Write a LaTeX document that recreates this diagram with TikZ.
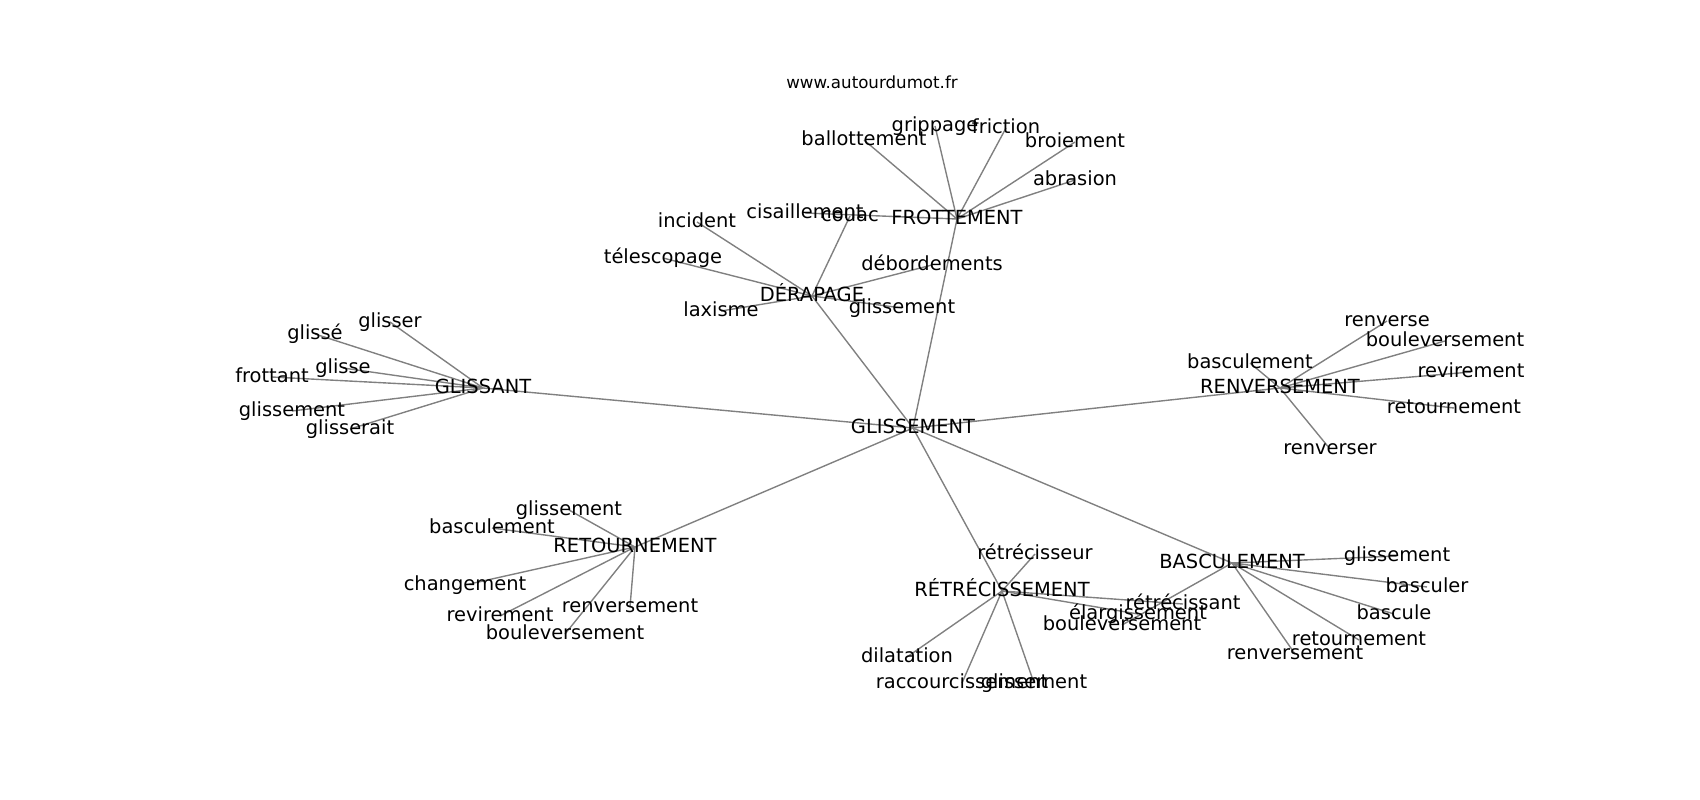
\documentclass[tikz,border=0pt]{standalone}
\usepackage{fontspec}
\setmainfont{DejaVu Sans}
\usetikzlibrary{backgrounds}

\begin{document}
\begin{tikzpicture}[x=0.72bp,y=-0.72bp]
\tikzset{
	word/.style={inner sep=0pt,
		outer sep=0pt,
		font=\fontsize{14bp}{16bp}\selectfont,
		text height=10.6bp, % same box for every label
		text depth=2.9bp
	},
	link/.style={draw=gray, line width=1bp}
}
\useasboundingbox (0,0) rectangle (1700,800);
\node[font=\fontsize{12bp}{14bp}\selectfont] (SITELBL) at (872,82) {www.autourdumot.fr};

% hubs
\node[word] (GLS) at (913,428) {GLISSEMENT};
\node[word] (GLSANT) at (483,388) {GLISSANT};
\node[word] (FROT) at (957,219) {FROTTEMENT};
\node[word] (DERA) at (812,296) {DÉRAPAGE};
\node[word] (RENV) at (1280,388) {RENVERSEMENT};
\node[word] (RETO) at (635,547) {RETOURNEMENT};
\node[word] (RETR) at (1002,591) {RÉTRÉCISSEMENT};
\node[word] (BASC) at (1232,563) {BASCULEMENT};

% FROTTEMENT
\node[word] (FROTa) at (864,140) {ballottement};
\node[word] (FROTb) at (935,126) {grippage};
\node[word] (FROTc) at (1006,128) {friction};
\node[word] (FROTd) at (1075,142) {broiement};
\node[word] (FROTe) at (1075,180) {abrasion};
\node[word] (FROTf) at (805,213) {cisaillement};

% DERAPAGE
\node[word] (DERAa) at (697,222) {incident};
\node[word] (DERAb) at (663,258) {télescopage};
\node[word] (DERAc) at (721,311) {laxisme};
\node[word] (DERAd) at (850,216) {couac};
\node[word] (DERAe) at (932,265) {débordements};
\node[word] (DERAf) at (902,308) {glissement};

% GLISSANT
\node[word] (GLSANTa) at (390,322) {glisser};
\node[word] (GLSANTb) at (315,334) {glissé};
\node[word] (GLSANTc) at (343,368) {glisse};
\node[word] (GLSANTd) at (272,377) {frottant};
\node[word] (GLSANTe) at (292,411) {glissement};
\node[word] (GLSANTf) at (350,429) {glisserait};

% RENVERSEMENT
\node[word] (RENVa) at (1387,321) {renverse};
\node[word] (RENVb) at (1445,341) {bouleversement};
\node[word] (RENVc) at (1250,363) {basculement};
\node[word] (RENVd) at (1471,372) {revirement};
\node[word] (RENVe) at (1454,408) {retournement};
\node[word] (RENVf) at (1330,449) {renverser};

% RETOURNEMENT
\node[word] (RETOa) at (569,510) {glissement};
\node[word] (RETOb) at (492,528) {basculement};
\node[word] (RETOc) at (465,585) {changement};
\node[word] (RETOd) at (500,616) {revirement};
\node[word] (RETOe) at (630,607) {renversement};
\node[word] (RETOf) at (565,634) {bouleversement};

% RETRECISSEMENT
\node[word] (RETRa) at (1035,554) {rétrécisseur};
\node[word] (RETRb) at (907,657) {dilatation};
\node[word] (RETRc) at (962,683) {raccourcissement};
\node[word] (RETRd) at (1034,683) {glissement};
\node[word] (RETRe) at (1183,604) {rétrécissant};
\node[word] (RETRf) at (1138,614) {élargissement};

% BASCULEMENT
\node[word] (BASCa) at (1397,556) {glissement};
\node[word] (BASCb) at (1427,587) {basculer};
\node[word] (BASCc) at (1394,614) {bascule};
\node[word] (BASCd) at (1359,640) {retournement};
\node[word] (BASCe) at (1295,654) {renversement};
\node[word] (BASCf) at (1122,625) {bouleversement};

\begin{pgfonlayer}{background}
\draw[link] (GLS.center) -- (GLSANT.center);
\draw[link] (GLS.center) -- (FROT.center);
\draw[link] (GLS.center) -- (DERA.center);
\draw[link] (GLS.center) -- (RENV.center);
\draw[link] (GLS.center) -- (RETO.center);
\draw[link] (GLS.center) -- (RETR.center);
\draw[link] (GLS.center) -- (BASC.center);

\draw[link] (FROT.center) -- (FROTa.center);
\draw[link] (FROT.center) -- (FROTb.center);
\draw[link] (FROT.center) -- (FROTc.center);
\draw[link] (FROT.center) -- (FROTd.center);
\draw[link] (FROT.center) -- (FROTe.center);
\draw[link] (FROT.center) -- (FROTf.center);

\draw[link] (DERA.center) -- (DERAa.center);
\draw[link] (DERA.center) -- (DERAb.center);
\draw[link] (DERA.center) -- (DERAc.center);
\draw[link] (DERA.center) -- (DERAd.center);
\draw[link] (DERA.center) -- (DERAe.center);
\draw[link] (DERA.center) -- (DERAf.center);

\draw[link] (GLSANT.center) -- (GLSANTa.center);
\draw[link] (GLSANT.center) -- (GLSANTb.center);
\draw[link] (GLSANT.center) -- (GLSANTc.center);
\draw[link] (GLSANT.center) -- (GLSANTd.center);
\draw[link] (GLSANT.center) -- (GLSANTe.center);
\draw[link] (GLSANT.center) -- (GLSANTf.center);

\draw[link] (RENV.center) -- (RENVa.center);
\draw[link] (RENV.center) -- (RENVb.center);
\draw[link] (RENV.center) -- (RENVc.center);
\draw[link] (RENV.center) -- (RENVd.center);
\draw[link] (RENV.center) -- (RENVe.center);
\draw[link] (RENV.center) -- (RENVf.center);

\draw[link] (RETO.center) -- (RETOa.center);
\draw[link] (RETO.center) -- (RETOb.center);
\draw[link] (RETO.center) -- (RETOc.center);
\draw[link] (RETO.center) -- (RETOd.center);
\draw[link] (RETO.center) -- (RETOe.center);
\draw[link] (RETO.center) -- (RETOf.center);

\draw[link] (RETR.center) -- (RETRa.center);
\draw[link] (RETR.center) -- (RETRb.center);
\draw[link] (RETR.center) -- (RETRc.center);
\draw[link] (RETR.center) -- (RETRd.center);
\draw[link] (RETR.center) -- (RETRe.center);
\draw[link] (RETR.center) -- (RETRf.center);

\draw[link] (BASC.center) -- (BASCa.center);
\draw[link] (BASC.center) -- (BASCb.center);
\draw[link] (BASC.center) -- (BASCc.center);
\draw[link] (BASC.center) -- (BASCd.center);
\draw[link] (BASC.center) -- (BASCe.center);
\draw[link] (BASC.center) -- (BASCf.center);
\end{pgfonlayer}

\end{tikzpicture}
\end{document}
